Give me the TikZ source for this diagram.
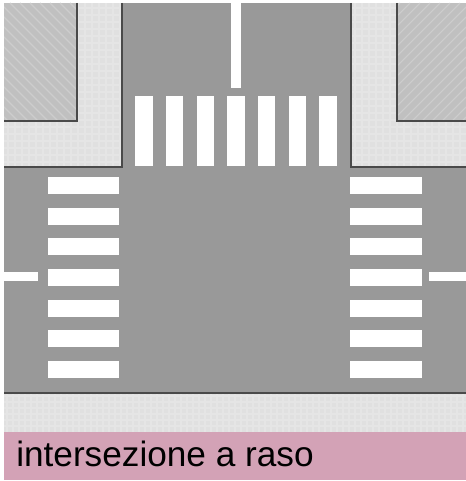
\documentclass[tikz,border=0pt]{standalone}
\usepackage{fontspec}
\setmainfont{Liberation Sans}
\usetikzlibrary{positioning}
\definecolor{road}{HTML}{999999}
\definecolor{walk}{HTML}{E0E0E0}
\definecolor{walkgrid}{HTML}{E5E5E5}
\definecolor{block}{HTML}{C0C0C0}
\definecolor{blockhatch}{HTML}{CDCDCD}
\definecolor{kerb}{HTML}{4A4A4A}
\definecolor{band}{HTML}{D3A2B6}
\tikzset{
 vbar/.style={fill=white, inner sep=0pt, outer sep=0pt, minimum width=12.8pt, minimum height=52.5pt},
 hbar/.style={fill=white, inner sep=0pt, outer sep=0pt, minimum width=53.5pt, minimum height=12.8pt},
 kerbline/.style={draw=kerb, line width=1pt},
 blockline/.style={draw=kerb, line width=1.4pt},
}
\begin{document}
\begin{tikzpicture}[x=0.75pt, y=-0.75pt]
 \useasboundingbox (0,0) rectangle (466,481);
 % road and bottom strip
 \fill[road] (4,3) rectangle (466,393);
 \fill[walk] (4,393) rectangle (466,432);
 \fill[band] (4,432) rectangle (466,480);
 % corners
 \fill[walk] (4,3) rectangle (122,167);
 \fill[walk] (351,3) rectangle (466,167);
 \foreach \x in {8,15,...,120} \draw[walkgrid, line width=1.2pt] (\x,3) -- (\x,167);
 \foreach \x in {355,362,...,466} \draw[walkgrid, line width=1.2pt] (\x,3) -- (\x,167);
 \foreach \y in {8,15,...,166} {
  \draw[walkgrid, line width=1.2pt] (4,\y) -- (122,\y);
  \draw[walkgrid, line width=1.2pt] (351,\y) -- (466,\y);
 }
 \foreach \y in {396,402,...,430} \draw[walkgrid, line width=.8pt] (4,\y) -- (466,\y);
 \foreach \x in {7,13,...,466} \draw[walkgrid, line width=.8pt] (\x,393) -- (\x,432);
 % blocks
 \fill[block] (4,3) rectangle (77,121);
 \fill[block] (397,3) rectangle (466,121);
 \begin{scope}
  \clip (4,3) rectangle (77,121);
  \foreach \x in {-120,-110,...,70} \draw[blockhatch, line width=.8pt] (\x,3) -- ++(118,118);
 \end{scope}
 \begin{scope}
  \clip (397,3) rectangle (466,121);
  \foreach \x in {400,410,...,590} \draw[blockhatch, line width=.8pt] (\x,3) -- ++(-118,118);
 \end{scope}
 % kerbs
 \coordinate (kl1) at (122,3);
 \coordinate (kl2) at (122,167);
 \coordinate (kl3) at (4,167);
 \coordinate (kr1) at (351,3);
 \coordinate (kr2) at (351,167);
 \coordinate (kr3) at (466,167);
 \coordinate (bl1) at (77,3);
 \coordinate (bl2) at (77,121);
 \coordinate (bl3) at (4,121);
 \coordinate (br1) at (397,3);
 \coordinate (br2) at (397,121);
 \coordinate (br3) at (466,121);
 \coordinate (sl) at (4,393);
 \coordinate (sr) at (466,393);
 \draw[kerbline] (kl1) -- (kl2) -- (kl3);
 \draw[kerbline] (kr1) -- (kr2) -- (kr3);
 \draw[blockline] (bl1) -- (bl2) -- (bl3);
 \draw[blockline] (br1) -- (br2) -- (br3);
 \draw[kerbline] (sl) -- (sr);
 % top crossing
 \node[vbar] (v1) at (144,131) {};
 \node[vbar, right=10.2pt of v1] (v2) {};
 \node[vbar, right=10.2pt of v2] (v3) {};
 \node[vbar, right=10.2pt of v3] (v4) {};
 \node[vbar, right=10.2pt of v4] (v5) {};
 \node[vbar, right=10.2pt of v5] (v6) {};
 \node[vbar, right=10.2pt of v6] (v7) {};
 % left crossing
 \node[hbar] (l1) at (83.5,185.5) {};
 \node[hbar, below=10.2pt of l1] (l2) {};
 \node[hbar, below=10.2pt of l2] (l3) {};
 \node[hbar, below=10.2pt of l3] (l4) {};
 \node[hbar, below=10.2pt of l4] (l5) {};
 \node[hbar, below=10.2pt of l5] (l6) {};
 \node[hbar, below=10.2pt of l6] (l7) {};
 % right crossing
 \node[hbar] (r1) at (386,185.5) {};
 \node[hbar, below=10.2pt of r1] (r2) {};
 \node[hbar, below=10.2pt of r2] (r3) {};
 \node[hbar, below=10.2pt of r3] (r4) {};
 \node[hbar, below=10.2pt of r4] (r5) {};
 \node[hbar, below=10.2pt of r5] (r6) {};
 \node[hbar, below=10.2pt of r6] (r7) {};
 % centre lines
 \fill[white] (231,3) rectangle (240.5,88);
 \fill[white] (4,272) rectangle (38,281);
 \fill[white] (429,272) rectangle (466,281);
 % caption
 \node[anchor=base west, inner sep=0pt, font=\fontsize{26.4pt}{30pt}\selectfont, text=black] (title) at (16,466) {intersezione a raso};
\end{tikzpicture}
\end{document}
